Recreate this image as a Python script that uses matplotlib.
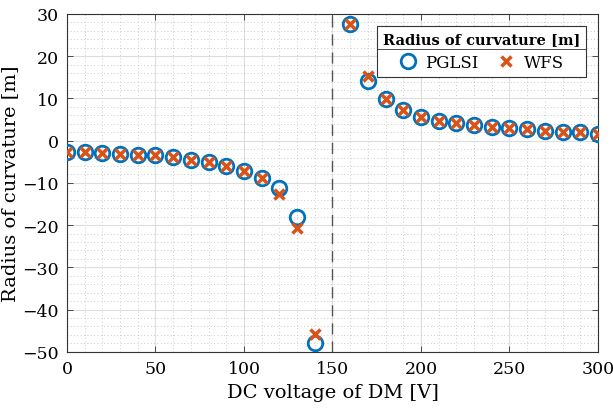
import numpy as np
import matplotlib
matplotlib.use('Agg')
from matplotlib import pyplot as plt
from matplotlib.ticker import MultipleLocator
from matplotlib.lines import Line2D

# DC voltage (V), 150 V is skipped
voltage = [0, 10, 20, 30, 40, 50, 60, 70, 80, 90, 100, 110, 120, 130, 140,
           160, 170, 180, 190, 200, 210, 220, 230, 240, 250, 260, 270, 280, 290, 300]
pglsi = [-2.6, -2.75, -2.9, -3.1, -3.4, -3.5, -3.9, -4.5, -5.1, -5.9, -7.1, -8.8, -11.3, -18.2, -47.9,
         27.6, 14.2, 9.8, 7.2, 5.7, 4.7, 4.2, 3.7, 3.3, 3.0, 2.75, 2.4, 2.1, 2.0, 1.6]
wfs = [-2.6, -2.75, -2.9, -3.1, -3.4, -3.5, -3.9, -4.5, -5.1, -5.9, -7.1, -8.8, -12.6, -20.8, -45.8,
       27.6, 15.2, 9.8, 7.2, 5.7, 4.7, 4.2, 3.7, 3.3, 3.0, 2.75, 2.4, 2.1, 2.0, 1.6]
split_voltage = 150

blue = '#0072BD'
orange = '#D95319'

plt.rcParams['font.family'] = 'DejaVu Serif'
plt.rcParams['font.size'] = 11.5

fig = plt.figure(figsize=(6.13, 4.14), dpi=100)
ax = fig.add_axes([0.1093, 0.148, 0.8662, 0.8158])

ax.axvline(split_voltage, color='#555555', lw=1.0, ls=(0, (8, 5)), zorder=1)
ax.plot(voltage, pglsi, 'o', ms=10.5, mfc='none', mec=blue, mew=2.0, label='PGLSI', zorder=3)
ax.plot(voltage, wfs, 'x', ms=7.5, mec=orange, mew=2.5, label='WFS', zorder=4)

ax.set_xlim(0, 300)
ax.set_ylim(-50, 30)
ax.xaxis.set_major_locator(MultipleLocator(50))
ax.xaxis.set_minor_locator(MultipleLocator(10))
ax.yaxis.set_major_locator(MultipleLocator(10))
ax.yaxis.set_minor_locator(MultipleLocator(2))
ax.tick_params(which='major', direction='in', top=True, right=True, length=4,
               width=0.6, color='#333333', labelsize=12.5, pad=6)
ax.tick_params(which='minor', length=0)
ax.grid(which='major', color='#dddddd', lw=0.8)
ax.grid(which='minor', color='#bbbbbb', lw=0.6, ls=(0, (1, 3)))
ax.set_axisbelow(True)
for s in ax.spines.values():
    s.set_color('#333333')
    s.set_linewidth(0.8)

ax.set_xlabel('DC voltage of DM [V]', fontsize=14, labelpad=4)
ax.set_ylabel('Radius of curvature [m]', fontsize=14, labelpad=2)

leg = ax.legend(ncol=2, loc='upper right', bbox_to_anchor=(0.977, 0.965),
                title='Radius of curvature [m]', fancybox=False, framealpha=1,
                edgecolor='#333333', fontsize=12, columnspacing=1.1,
                handletextpad=0.5, borderpad=0.35, handlelength=1.1,
                borderaxespad=0)
leg.get_title().set_fontweight('bold')
leg.get_title().set_fontsize(10.5)
leg.get_frame().set_linewidth(0.8)
leg.set_zorder(2.5)

# separator line under the legend title
fig.canvas.draw()
bb = leg.get_window_extent().transformed(fig.transFigure.inverted())
tb = leg.get_title().get_window_extent().transformed(fig.transFigure.inverted())
ysep = tb.y0 - 0.008
fig.add_artist(Line2D([bb.x0, bb.x1], [ysep, ysep], transform=fig.transFigure,
                      color='#333333', lw=0.6, zorder=10))

fig.savefig('out.png', dpi=100)
